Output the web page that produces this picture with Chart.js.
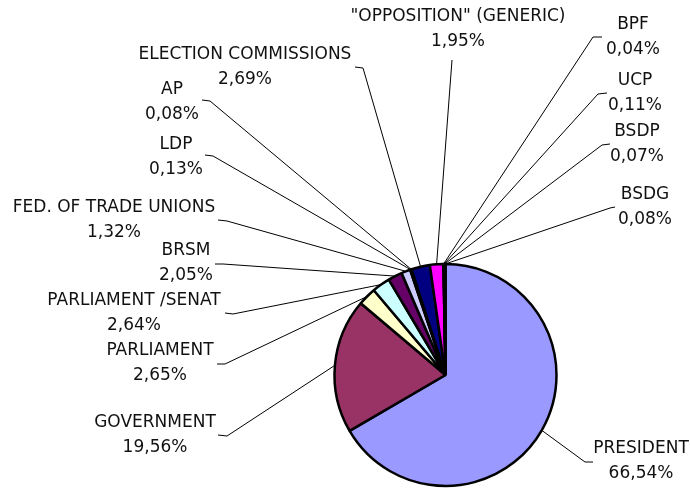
<!DOCTYPE html>
<html>
<head>
<meta charset="utf-8">
<script src="https://cdn.jsdelivr.net/npm/chart.js@4/dist/chart.umd.min.js"></script>
<style>
html,body{margin:0;padding:0;background:#fff;}
#wrap{position:relative;width:690px;height:489px;}
</style>
</head>
<body>
<div id="wrap"><canvas id="c" width="690" height="489"></canvas></div>
<script>
// ---- data ----
const categories = ["PRESIDENT","GOVERNMENT","PARLIAMENT","PARLIAMENT /SENAT","BRSM","FED. OF TRADE UNIONS","LDP","AP","ELECTION COMMISSIONS","\"OPPOSITION\" (GENERIC)","BPF","UCP","BSDP","BSDG"];
const shares = [66.54,19.56,2.65,2.64,2.05,1.32,0.13,0.08,2.69,1.95,0.04,0.11,0.07,0.08];
const shareLabels = ["66,54%","19,56%","2,65%","2,64%","2,05%","1,32%","0,13%","0,08%","2,69%","1,95%","0,04%","0,11%","0,07%","0,08%"];
const sliceColors = ["#9999FF","#993366","#FFFFCC","#CCFFFF","#660066","#CCCCFF","#FF8080","#0066CC","#000080","#FF00FF","#FFFF00","#00FFFF","#800080","#800000"];

// label placement: text centre x, first line centre y, leader start (sx,sy), tick end (tx,ty)
const labelLayout = [
  {cx:641, y:449, sx:593, sy:462, tx:585, ty:462},
  {cx:155, y:423, sx:218, sy:435, tx:227, ty:436},
  {cx:160, y:351, sx:217, sy:364, tx:225, ty:364},
  {cx:134, y:301, sx:225, sy:313, tx:233, ty:314},
  {cx:186, y:251, sx:215, sy:264, tx:223, ty:264},
  {cx:114, y:208, sx:218, sy:220, tx:227, ty:221},
  {cx:176, y:145, sx:205, sy:155, tx:213, ty:156},
  {cx:172, y:90,  sx:202, sy:100, tx:210, ty:101},
  {cx:245, y:55,  sx:355, sy:67,  tx:363, ty:68},
  {cx:458, y:17,  sx:452, sy:60,  tx:452, ty:60},
  {cx:633, y:25,  sx:602, sy:37,  tx:593, ty:37},
  {cx:635, y:81,  sx:607, sy:93,  tx:598, ty:94},
  {cx:637, y:132, sx:610, sy:144, tx:602, ty:145},
  {cx:645, y:195, sx:615, sy:207, tx:610, ty:208}
];

const labelPlugin = {
  id:'pieLabels',
  afterDatasetsDraw(chart){
    const ctx = chart.ctx;
    const meta = chart.getDatasetMeta(0);
    ctx.save();
    ctx.strokeStyle = '#000';
    ctx.lineWidth = 1;
    meta.data.forEach((arc, i) => {
      const p = arc.getProps(['x','y','startAngle','endAngle','outerRadius'], true);
      const mid = (p.startAngle + p.endAngle)/2;
      const px = p.x + Math.cos(mid)*p.outerRadius;
      const py = p.y + Math.sin(mid)*p.outerRadius;
      const L = labelLayout[i];
      ctx.beginPath();
      ctx.moveTo(L.sx, L.sy);
      ctx.lineTo(L.tx, L.ty);
      ctx.lineTo(px, py);
      ctx.stroke();
    });
    ctx.fillStyle = '#111';
    ctx.font = '17px "DejaVu Sans"';
    ctx.textAlign = 'center';
    ctx.textBaseline = 'middle';
    meta.data.forEach((arc, i) => {
      const L = labelLayout[i];
      ctx.fillText(categories[i], L.cx, L.y);
      ctx.fillText(shareLabels[i], L.cx, L.y + 25);
    });
    ctx.restore();
  }
};

new Chart(document.getElementById('c'), {
  type:'pie',
  data:{
    labels: categories,
    datasets:[{
      data: shares,
      backgroundColor: sliceColors,
      borderColor:'#000',
      borderWidth:2.5
    }]
  },
  options:{
    responsive:false,
    animation:false,
    radius:111,
    layout:{padding:{left:334.5,right:133.5,top:264,bottom:3}},
    plugins:{legend:{display:false},tooltip:{enabled:false},title:{display:false}}
  },
  plugins:[labelPlugin]
});
</script>
</body>
</html>
